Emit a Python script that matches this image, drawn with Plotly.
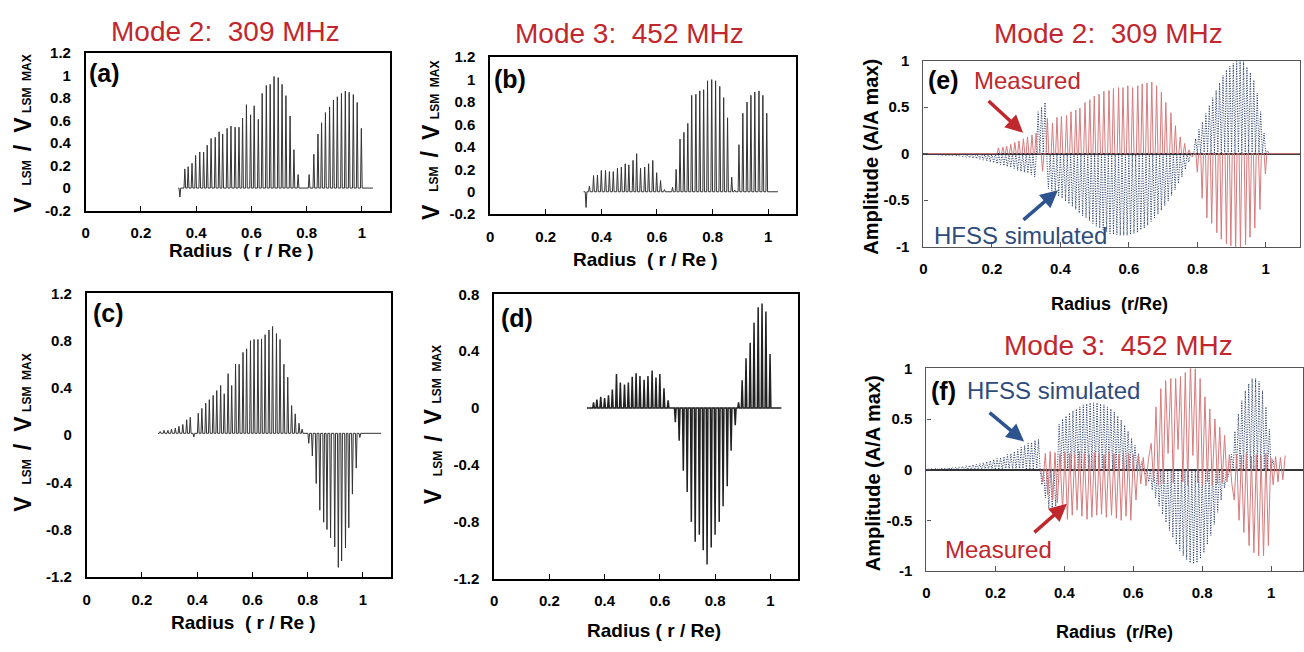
import plotly.graph_objects as go

W, H = 1304, 652

# ---------------- data ----------------
a_r = [0.341, 0.359, 0.371, 0.385, 0.398, 0.413, 0.427, 0.440, 0.454, 0.469, 0.483,
       0.496, 0.512, 0.526, 0.541, 0.555, 0.568, 0.582, 0.597, 0.610, 0.625,
       0.639, 0.654, 0.668, 0.682, 0.697, 0.711, 0.725, 0.740, 0.754, 0.769,
       0.809, 0.826, 0.841, 0.854, 0.868, 0.883, 0.897, 0.911, 0.926, 0.940,
       0.954, 0.969, 0.983, 0.998]
a_h = [-0.08, 0.17, 0.19, 0.22, 0.29, 0.32, 0.32, 0.38, 0.44, 0.45, 0.50,
       0.48, 0.53, 0.55, 0.54, 0.54, 0.62, 0.74, 0.65, 0.73, 0.61,
       0.84, 0.91, 0.92, 0.99, 0.98, 0.92, 0.82, 0.64, 0.34, 0.12,
       0.12, 0.30, 0.48, 0.58, 0.67, 0.72, 0.78, 0.81, 0.84, 0.86,
       0.85, 0.83, 0.76, 0.53]
a_span = [0.335, 1.04]

b_r = [0.345, 0.357, 0.372, 0.386, 0.400, 0.415, 0.429, 0.443, 0.458, 0.472, 0.486,
       0.499, 0.514, 0.527, 0.541, 0.556, 0.570, 0.585, 0.599, 0.613, 0.627,
       0.656, 0.669, 0.683, 0.697, 0.711, 0.725, 0.740, 0.754, 0.768, 0.782,
       0.797, 0.811, 0.826, 0.840, 0.854, 0.869, 0.880, 0.895, 0.909, 0.924,
       0.938, 0.952, 0.967, 0.981, 0.995]
b_h = [-0.14, 0.05, 0.145, 0.15, 0.19, 0.19, 0.18, 0.18, 0.21, 0.22, 0.25,
       0.24, 0.28, 0.34, 0.21, 0.22, 0.25, 0.28, 0.17, 0.10, 0.02,
       0.04, 0.20, 0.47, 0.53, 0.61, 0.86, 0.87, 0.90, 0.91, 0.99,
       1.00, 0.99, 0.94, 0.84, 0.66, 0.13, 0.015, 0.42, 0.70, 0.80,
       0.86, 0.89, 0.90, 0.86, 0.70]
b_span = [0.336, 1.035]

c_r = [0.266, 0.280, 0.294, 0.307, 0.321, 0.334, 0.348, 0.362, 0.375, 0.388,
       0.404, 0.417, 0.431, 0.444, 0.458, 0.471, 0.485, 0.498, 0.512, 0.525,
       0.539, 0.552, 0.566, 0.579, 0.593, 0.606, 0.620, 0.633, 0.646, 0.660,
       0.673, 0.687, 0.700, 0.714, 0.728, 0.742, 0.755, 0.769, 0.780,
       0.804, 0.817, 0.831, 0.844, 0.858, 0.870, 0.883, 0.898, 0.911, 0.923,
       0.937, 0.949, 0.962, 0.976, 0.989]
c_h = [0.03, 0.04, 0.04, 0.05, 0.06, 0.075, 0.09, 0.13, 0.15, -0.015,
       0.185, 0.226, 0.27, 0.30, 0.336, 0.377, 0.42, 0.35, 0.52, 0.42,
       0.60, 0.60, 0.70, 0.73, 0.80, 0.81, 0.81, 0.815, 0.85, 0.89,
       0.92, 0.86, 0.81, 0.60, 0.49, 0.25, 0.18, 0.10, 0.05,
       -0.07, -0.177, -0.41, -0.636, -0.738, -0.80, -0.87, -0.947, -1.12, -1.065,
       -0.955, -0.785, -0.50, -0.28, -0.02]
c_span = [0.258, 1.066]
c_base = 0.015

d_r = [0.360, 0.372, 0.386, 0.400, 0.414, 0.428, 0.443, 0.457, 0.472, 0.486,
       0.500, 0.514, 0.528, 0.543, 0.557, 0.572, 0.586, 0.600, 0.615, 0.630,
       0.656, 0.670, 0.685, 0.699, 0.714, 0.728, 0.743, 0.757, 0.771, 0.786,
       0.800, 0.815, 0.829, 0.844, 0.858, 0.873,
       0.885, 0.898, 0.912, 0.927, 0.941, 0.956, 0.970, 0.984, 0.999]
d_h = [0.04, 0.06, 0.08, 0.07, 0.09, 0.13, 0.24, 0.18, 0.165, 0.18,
       0.22, 0.245, 0.225, 0.20, 0.225, 0.265, 0.215, 0.24, 0.14, 0.055,
       -0.10, -0.23, -0.44, -0.59, -0.80, -0.94, -0.89, -1.00, -1.10, -0.98,
       -0.89, -0.80, -0.69, -0.55, -0.30, -0.12,
       0.04, 0.196, 0.35, 0.46, 0.60, 0.71, 0.735, 0.68, 0.38]
d_span = [0.336, 1.04]

e_red_r = [0.219, 0.232, 0.243, 0.255, 0.267, 0.279, 0.292, 0.304, 0.317, 0.329,
           0.348,
           0.362, 0.377, 0.390, 0.403, 0.418, 0.431, 0.445, 0.457, 0.472, 0.486,
           0.499, 0.513, 0.527, 0.542, 0.555, 0.570, 0.583, 0.597, 0.611, 0.626,
           0.639, 0.653, 0.667, 0.681, 0.695, 0.708, 0.723, 0.736, 0.750, 0.763,
           0.776,
           0.786, 0.800, 0.814, 0.828, 0.842, 0.857, 0.870, 0.885, 0.898, 0.912,
           0.926, 0.941, 0.954, 0.968, 0.983, 0.999]
e_red_h = [0.063, 0.07, 0.08, 0.10, 0.12, 0.136, 0.16, 0.18, 0.20, 0.22,
           -0.19,
           0.38, 0.33, 0.39, 0.40, 0.41, 0.45, 0.47, 0.49, 0.55, 0.58,
           0.62, 0.64, 0.67, 0.68, 0.70, 0.71, 0.71, 0.73, 0.71, 0.73,
           0.75, 0.76, 0.77, 0.73, 0.66, 0.55, 0.44, 0.30, 0.18, 0.11,
           0.04,
           -0.03, -0.20, -0.48, -0.69, -0.75, -0.85, -0.92, -0.97, -0.99, -1.05,
           -1.04, -0.98, -0.90, -0.80, -0.60, -0.22]
e_red_span = [0.0, 1.1]

blue_r = [0.005, 0.015, 0.025, 0.035, 0.045, 0.055, 0.065, 0.075, 0.085, 0.095,
          0.105, 0.115, 0.125, 0.135, 0.145, 0.155, 0.165, 0.175, 0.185, 0.195,
          0.205, 0.215, 0.225, 0.235, 0.245, 0.255, 0.265, 0.275, 0.285, 0.295,
          0.305, 0.315, 0.325, 0.335, 0.345, 0.355, 0.365, 0.375, 0.385, 0.395,
          0.405, 0.415, 0.425, 0.435, 0.445, 0.455, 0.465, 0.475, 0.485, 0.495,
          0.505, 0.515, 0.525, 0.535, 0.545, 0.555, 0.565, 0.575, 0.585, 0.595,
          0.605, 0.615, 0.625, 0.635, 0.645, 0.655, 0.665, 0.675, 0.685, 0.695,
          0.705, 0.715, 0.725, 0.735, 0.745, 0.755, 0.765, 0.775, 0.785, 0.795,
          0.805, 0.815, 0.825, 0.835, 0.845, 0.855, 0.865, 0.875, 0.885, 0.895,
          0.905, 0.915, 0.925, 0.935, 0.945, 0.955, 0.965, 0.975, 0.985, 0.995,
          1.005]
e_blue_h = [-0.010, -0.010, -0.012, -0.015, -0.015, -0.018, -0.020, -0.022, -0.025, -0.028,
            -0.030, -0.035, -0.040, -0.045, -0.050, -0.055, -0.060, -0.070, -0.080, -0.090,
            -0.100, -0.110, -0.120, -0.130, -0.140, -0.150, -0.160, -0.180, -0.190, -0.200,
            -0.210, -0.230, -0.250, 0.45, 0.50, 0.55, -0.38, -0.40, -0.42, -0.46,
            -0.48, -0.51, -0.54, -0.57, -0.60, -0.64, -0.67, -0.69, -0.72, -0.75,
            -0.78, -0.80, -0.82, -0.84, -0.86, -0.87, -0.87, -0.88, -0.88, -0.88,
            -0.87, -0.86, -0.85, -0.82, -0.80, -0.77, -0.73, -0.69, -0.65, -0.61,
            -0.56, -0.51, -0.45, -0.39, -0.32, -0.25, -0.17, -0.09, -0.03, 0.16,
            0.26, 0.34, 0.43, 0.52, 0.60, 0.68, 0.76, 0.84, 0.90, 0.94,
            0.97, 0.99, 1.00, 0.99, 0.93, 0.87, 0.79, 0.65, 0.45, 0.22,
            0.03]

f_blue_h = [0.010, 0.010, 0.012, 0.014, 0.016, 0.018, 0.020, 0.023, 0.026, 0.030,
            0.034, 0.038, 0.043, 0.050, 0.055, 0.060, 0.070, 0.080, 0.090, 0.100,
            0.110, 0.120, 0.130, 0.150, 0.160, 0.180, 0.200, 0.220, 0.240, 0.260,
            0.270, 0.290, 0.300, -0.15, -0.28, -0.38, -0.40, -0.36, 0.45, 0.50,
            0.53, 0.56, 0.58, 0.60, 0.62, 0.64, 0.65, 0.66, 0.66, 0.66,
            0.65, 0.64, 0.62, 0.60, 0.57, 0.53, 0.49, 0.44, 0.38, 0.31,
            0.24, 0.16, 0.08, -0.05, -0.12, -0.20, -0.28, -0.36, -0.44, -0.52,
            -0.60, -0.67, -0.74, -0.80, -0.85, -0.89, -0.92, -0.93, -0.92, -0.88,
            -0.82, -0.74, -0.65, -0.54, -0.42, -0.30, -0.18, -0.07, 0.15, 0.38,
            0.55, 0.68, 0.78, 0.85, 0.90, 0.90, 0.87, 0.78, 0.62, 0.40,
            0.10]
f_red_r = [0.338, 0.352, 0.366, 0.380, 0.395, 0.409, 0.423, 0.437, 0.451, 0.466,
           0.480, 0.494, 0.508, 0.522, 0.537, 0.551, 0.565, 0.579, 0.593, 0.608,
           0.622, 0.637,
           0.652, 0.666, 0.680, 0.694, 0.709, 0.723, 0.737, 0.751, 0.766, 0.780,
           0.794, 0.808, 0.822, 0.837, 0.851, 0.865, 0.879,
           0.893, 0.907, 0.921, 0.936, 0.950, 0.964, 0.978, 0.992,
           1.006, 1.020, 1.034]
f_red_h = [-0.12, -0.25, -0.30, -0.33, -0.40, -0.49, -0.45, -0.40, -0.46, -0.49,
           -0.47, -0.45, -0.44, -0.47, -0.45, -0.48, -0.50, -0.46, -0.50, -0.30,
           -0.14, -0.16,
           0.26, 0.62, 0.80, 0.88, 0.90, 0.90, 0.92, 0.96, 1.05, 1.00,
           0.90, 0.72, 0.60, 0.50, 0.42, 0.34, 0.15,
           -0.30, -0.50, -0.62, -0.75, -0.82, -0.85, -0.85, -0.75,
           -0.15, -0.12, -0.10]
f_red_c = [0.16, 0.18, 0.17, 0.15, 0.17, 0.16, 0.15, 0.18, 0.16, 0.15,
           0.17, 0.16, 0.15, 0.17, 0.16, 0.15, 0.17, 0.16, 0.15, 0.14,
           0.12, 0.10,
           -0.12, -0.15, -0.14, 0.16, -0.13, 0.20, -0.12, -0.15, 0.14, -0.13,
           -0.16, -0.12, -0.15, -0.14, -0.13, -0.12, -0.14,
           0.15, 0.14, 0.16, 0.13, 0.15, 0.14, 0.16, 0.12,
           0.13, 0.12, 0.14]

x_ticks = [0, 0.2, 0.4, 0.6, 0.8, 1.0]
x_ticktext = ["0", "0.2", "0.4", "0.6", "0.8", "1"]
y_ticks_ab = [-0.2, 0, 0.2, 0.4, 0.6, 0.8, 1.0, 1.2]
y_text_ab = ["-0.2", "0", "0.2", "0.4", "0.6", "0.8", "1", "1.2"]
y_ticks_c = [-1.2, -0.8, -0.4, 0, 0.4, 0.8, 1.2]
y_text_c = ["-1.2", "-0.8", "-0.4", "0", "0.4", "0.8", "1.2"]
y_ticks_d = [-1.2, -0.8, -0.4, 0, 0.4, 0.8]
y_text_d = ["-1.2", "-0.8", "-0.4", "0", "0.4", "0.8"]
y_ticks_ef = [-1, -0.5, 0, 0.5, 1]
y_text_ef = ["-1", "-0.5", "0", "0.5", "1"]

# ---------------- helpers ----------------
FONT = "Liberation Sans, Arial, sans-serif"
RED_TXT = "#c1272d"
BLUE_TXT = "#2f4b7c"
SPIKE = "#333333"
RED_LINE = "#d77b7d"
BLUE_LINE = "#1c3160"


def spikes(rs, hs, span, base=0.0, w=0.003):
    xs, ys = [span[0]], [base]
    for r, h in zip(rs, hs):
        xs += [r - w, r, r + w]
        ys += [base, h, base]
    xs.append(span[1])
    ys.append(base)
    return xs, ys


def zigzag(rs, hs, half=0.005):
    xs, ys = [], []
    for r, h in zip(rs, hs):
        xs += [r - half, r]
        ys += [0.0, h]
    xs.append(rs[-1] + half)
    ys.append(0.0)
    return xs, ys


def counter_wave(rs, hs, cs, half=0.007):
    xs, ys = [rs[0] - half], [0.0]
    for r, h, c in zip(rs, hs, cs):
        xs += [r, r + half]
        ys += [h, c]
    return xs, ys


def px(x):
    return x / W


def py(y):
    return 1 - y / H


fig = go.Figure()


def add(xs, ys, n, color, width=1.0, dash="solid"):
    fig.add_trace(go.Scatter(x=xs, y=ys, mode="lines",
                             line=dict(color=color, width=width, dash=dash),
                             xaxis="x" if n == 1 else f"x{n}",
                             yaxis="y" if n == 1 else f"y{n}",
                             hoverinfo="skip", showlegend=False))


add(*spikes(a_r, a_h, a_span), 1, SPIKE, 1.0)
add(*spikes(b_r, b_h, b_span), 2, SPIKE, 1.0)
add(*spikes(c_r, c_h, c_span, base=c_base), 3, SPIKE, 1.0)
add(*spikes(d_r, d_h, d_span), 4, "#222222", 1.5)
add(*zigzag(blue_r, e_blue_h), 5, BLUE_LINE, 1.0, "1px,1.5px")
add(*spikes(e_red_r, e_red_h, e_red_span, w=0.004), 5, RED_LINE, 1.0)
add(*zigzag(blue_r, f_blue_h), 6, BLUE_LINE, 1.0, "1px,1.5px")
add(*counter_wave(f_red_r, f_red_h, f_red_c), 6, RED_LINE, 1.0)

panels = {
    1: (82, 387, 45, 207, 1.1, [-0.2, 1.2], y_ticks_ab, y_text_ab, "abcd"),
    2: (488, 795, 49.5, 210.7, 1.1, [-0.2, 1.2], y_ticks_ab, y_text_ab, "abcd"),
    3: (83, 388, 292, 583, 1.1, [-1.2, 1.2], y_ticks_c, y_text_c, "abcd"),
    4: (492, 797, 293, 585, 1.1, [-1.2, 0.8], y_ticks_d, y_text_d, "abcd"),
    5: (923, 1301, 53, 244, 1.1, [-1, 1], y_ticks_ef, y_text_ef, "ef"),
    6: (926, 1304, 369, 577, 1.0925, [-1, 1], y_ticks_ef, y_text_ef, "ef"),
}

tickfont = dict(family=FONT, size=15, color="black", weight="bold")
layout = {}
for n, (l, r, t, b, xmax, yr, yt, ytt, kind) in panels.items():
    xk = "xaxis" if n == 1 else f"xaxis{n}"
    yk = "yaxis" if n == 1 else f"yaxis{n}"
    xa = "x" if n == 1 else f"x{n}"
    ya = "y" if n == 1 else f"y{n}"
    lc = "black" if kind == "abcd" else "#555555"
    lw = 1.5 if kind == "abcd" else 1.2
    layout[xk] = dict(domain=[px(l), px(r)], range=[0, xmax], anchor=ya,
                      tickvals=x_ticks, ticktext=x_ticktext,
                      showline=True, linecolor=lc, linewidth=lw, mirror=True,
                      ticks="inside", ticklen=5, tickcolor=lc, tickwidth=1,
                      showgrid=False, zeroline=False, tickfont=tickfont,
                      ticklabelstandoff=8, fixedrange=True)
    layout[yk] = dict(domain=[py(b), py(t)], range=yr, anchor=xa,
                      tickvals=yt, ticktext=ytt,
                      showline=True, linecolor=lc, linewidth=lw, mirror=True,
                      ticks="inside" if kind == "ef" else "", ticklen=4,
                      tickcolor=lc, showgrid=False,
                      zeroline=(kind == "ef"), zerolinecolor="#333333",
                      zerolinewidth=1.5, tickfont=tickfont,
                      ticklabelstandoff=10, fixedrange=True)

ann = []


def text(x, y, s, size, color="black", bold=False, angle=0, xanchor="center"):
    ann.append(dict(x=px(x), y=py(y), xref="paper", yref="paper", text=s,
                    showarrow=False, xanchor=xanchor, yanchor="middle",
                    textangle=angle,
                    font=dict(family=FONT, size=size, color=color,
                              weight="bold" if bold else "normal")))


def arrow(hx, hy, tx, ty, color):
    ann.append(dict(x=px(hx), y=py(hy), xref="paper", yref="paper", text="",
                    showarrow=True, ax=tx - hx, ay=ty - hy, axref="pixel",
                    ayref="pixel", arrowhead=2, arrowsize=1.0, arrowwidth=3.5,
                    arrowcolor=color))


NB = "\u00a0"
t2 = "Mode 2:" + NB + NB + "309 MHz"
t3 = "Mode 3:" + NB + NB + "452 MHz"
text(222, 23, t2, 28, RED_TXT)
text(628, 25, t3, 28, RED_TXT)
text(1109, 25, t2, 28, RED_TXT)
text(1119, 345, t3, 28, RED_TXT)

text(101, 66, "(a)", 25, bold=True)
text(508, 72, "(b)", 25, bold=True)
text(105, 312, "(c)", 25, bold=True)
text(515, 317, "(d)", 25, bold=True)
text(943, 73, "(e)", 25, bold=True)
text(943, 392, "(f)", 25, bold=True)

text(1027, 73, "Measured", 24, RED_TXT)
text(1020, 233, "HFSS simulated", 24, BLUE_TXT)
text(1054, 392, "HFSS simulated", 24, BLUE_TXT)
text(998, 555, "Measured", 24, RED_TXT)
arrow(1023, 127, 987, 94, "#c0282d")
arrow(1058, 186, 1022, 217, "#2e5490")
arrow(1024, 444, 988, 414, "#2e5490")
arrow(1067, 508, 1033, 538, "#c0282d")

rad1 = "Radius" + NB + NB + "(" + NB + "r" + NB + "/" + NB + "Re" + NB + ")"
rad2 = "Radius" + NB + "(" + NB + "r" + NB + "/" + NB + "Re)"
rad3 = "Radius" + NB + NB + "(r/Re)"
text(238, 248, rad1, 19, bold=True)
text(644, 257, rad1, 19, bold=True)
text(240, 630, rad1, 19, bold=True)
text(653, 638, rad2, 19, bold=True)
text(1110, 303, rad3, 18, bold=True)
text(1115, 640, rad3, 18, bold=True)


def v_title(cx, cy):
    # "V LSM / V LSM MAX" built from rotated pieces (reading bottom-to-top)
    text(cx - 1, cy + 73, "V", 23, bold=True, angle=-90)
    text(cx + 3, cy + 40, "LSM", 12, bold=True, angle=-90)
    text(cx - 1, cy + 14, "/", 23, bold=True, angle=-90)
    text(cx - 1, cy - 9, "V", 23, bold=True, angle=-90)
    text(cx + 3, cy - 52, "LSM" + NB + NB + "MAX", 12, bold=True, angle=-90)


v_title(20, 128)
v_title(429, 135)
v_title(20, 435)
v_title(432, 427)
text(870, 152, "Amplitude (A/A max)", 20, bold=True, angle=-90)
text(872, 477, "Amplitude (A/A max)", 20, bold=True, angle=-90)

fig.update_layout(width=W, height=H, margin=dict(l=0, r=0, t=0, b=0),
                  paper_bgcolor="white", plot_bgcolor="white",
                  annotations=ann, **layout)

fig.write_html("out.html", config={"displayModeBar": False},
               post_script="document.documentElement.style.margin='0';document.body.style.margin='0';document.body.style.overflow='hidden';")
